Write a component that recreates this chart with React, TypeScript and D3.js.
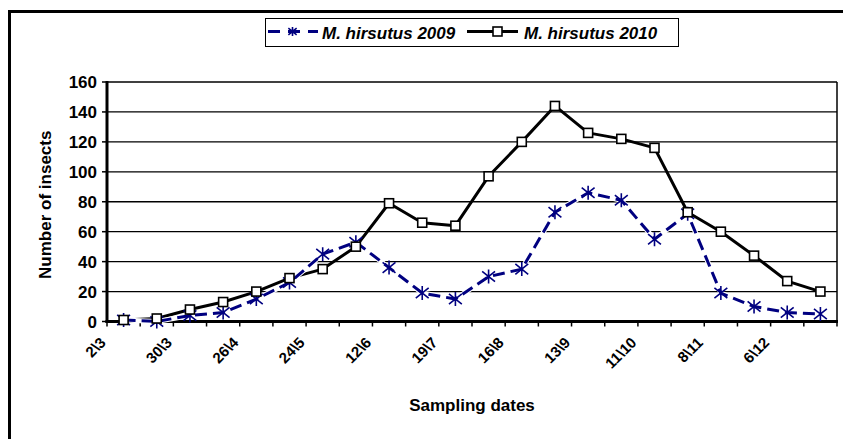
import * as d3 from 'd3';

const tickLabels = ['2\\3', '30\\3', '26\\4', '24\\5', '12\\6', '19\\7', '16\\8', '13\\9', '11\\10', '8\\11', '6\\12'];
const hirsutus2009 = [1, 0, 4, 6, 15, 26, 45, 53, 36, 19, 15, 30, 35, 73, 86, 81, 55, 72, 19, 10, 6, 5];
const hirsutus2010 = [1, 2, 8, 13, 20, 29, 35, 50, 79, 66, 64, 97, 120, 144, 126, 122, 116, 73, 60, 44, 27, 20];
const yTicks = [0, 20, 40, 60, 80, 100, 120, 140, 160];

const W = 843;
const H = 439;
const FONT = '"Liberation Sans", Arial, sans-serif';
const NAVY = '#000080';

const plot = { left: 107, right: 837, top: 82, bottom: 321.5 };
const C45 = Math.SQRT1_2;

function starPath(cx: number, cy: number, s: number) {
  const d = s * 0.92;
  return `M${cx},${cy - s}L${cx},${cy + s}M${cx - d},${cy - d * 0.8}L${cx + d},${cy + d * 0.8}M${cx - d},${cy + d * 0.8}L${cx + d},${cy - d * 0.8}`;
}

export default function App() {
  const x = d3.scaleBand<number>()
    .domain(d3.range(hirsutus2009.length))
    .range([plot.left, plot.right]);
  const y = d3.scaleLinear().domain([0, 160]).range([plot.bottom, plot.top]);
  const cx = (i: number) => (x(i) ?? 0) + x.bandwidth() / 2;

  const line = d3.line<number>().x((_, i) => cx(i)).y(d => y(d));
  const tickXs = d3.range(hirsutus2009.length + 1).map(i => plot.left + i * x.step());

  return (
    <svg width={W} height={H} style={{ position: 'absolute', left: 0, top: 0, background: '#fff' }}
      fontFamily={FONT} fontWeight="bold">
      <rect x={9.5} y={11.5} width={W + 20} height={H + 20} fill="#fff" stroke="#000" strokeWidth={3} />

      {/* gridlines */}
      {yTicks.filter(t => t > 0).map(t => (
        <line key={t} x1={plot.left} x2={plot.right} y1={y(t)} y2={y(t)} stroke="#000" strokeWidth={1.3} />
      ))}
      <line x1={plot.right} x2={plot.right} y1={plot.top} y2={plot.bottom} stroke="#000" strokeWidth={1.5} />

      {/* axes */}
      <line x1={plot.left} x2={plot.left} y1={plot.top - 1} y2={plot.bottom + 1.5} stroke="#000" strokeWidth={3} />
      <line x1={plot.left - 1.5} x2={plot.right + 1} y1={plot.bottom} y2={plot.bottom} stroke="#000" strokeWidth={3} />
      {yTicks.map(t => (
        <g key={t}>
          <line x1={plot.left - 5} x2={plot.left} y1={y(t)} y2={y(t)} stroke="#000" strokeWidth={1.5} />
          <text x={97} y={y(t)} dy="0.36em" textAnchor="end" fontSize={17}>{t}</text>
        </g>
      ))}
      {tickXs.map((tx, i) => (
        <line key={i} x1={tx} x2={tx} y1={plot.bottom} y2={plot.bottom + 5} stroke="#000" strokeWidth={1.5} />
      ))}
      {/* rotated date labels, every second sampling date */}
      {tickLabels.map((lab, i) => (
        <text key={lab} textAnchor="end" fontSize={15}
          transform={`matrix(${C45} ${-C45} ${C45} ${C45} ${cx(i * 2) - 17} ${plot.bottom + 22})`}
          style={{ transformBox: 'view-box' }}>{lab}</text>
      ))}

      {/* series lines */}
      <path d={line(hirsutus2010) ?? ''} fill="none" stroke="#000" strokeWidth={3} strokeLinejoin="round" />
      <path d={line(hirsutus2009) ?? ''} fill="none" stroke="#fff" strokeWidth={5} />
      <path d={line(hirsutus2009) ?? ''} fill="none" stroke={NAVY} strokeWidth={3} strokeDasharray="12,6" />

      {/* markers */}
      {hirsutus2009.map((v, i) => (
        <path key={i} d={starPath(cx(i), y(v), 7)} stroke={NAVY} strokeWidth={1.6} fill="none" />
      ))}
      {hirsutus2010.map((v, i) => (
        <rect key={i} x={cx(i) - 4.5} y={y(v) - 4.5} width={9} height={9} fill="#fff" stroke="#000" strokeWidth={1.6} />
      ))}

      {/* axis titles */}
      <text x={(plot.left + plot.right) / 2} y={405} dy="0.35em" textAnchor="middle" fontSize={17}>Sampling dates</text>
      <text transform={`translate(45 ${(plot.top + plot.bottom) / 2 + 3}) rotate(-90)`} dy="0.35em" textAnchor="middle" fontSize={17}>
        Number of insects
      </text>

      {/* legend */}
      <rect x={265.5} y={18.5} width={413} height={28} fill="#fff" stroke="#000" strokeWidth={1} />
      <line x1={268} x2={318} y1={31.5} y2={31.5} stroke={NAVY} strokeWidth={3} strokeDasharray="12,8" />
      <path d={starPath(292.5, 31.5, 4.5)} stroke={NAVY} strokeWidth={1.6} fill="none" />
      <text x={322} y={39} fontSize={17} fontStyle="italic">M. hirsutus 2009</text>
      <line x1={467} x2={518} y1={31.5} y2={31.5} stroke="#000" strokeWidth={3} />
      <rect x={493} y={27} width={9} height={9} fill="#fff" stroke="#000" strokeWidth={1.6} />
      <text x={524} y={39} fontSize={17} fontStyle="italic">M. hirsutus 2010</text>
    </svg>
  );
}
